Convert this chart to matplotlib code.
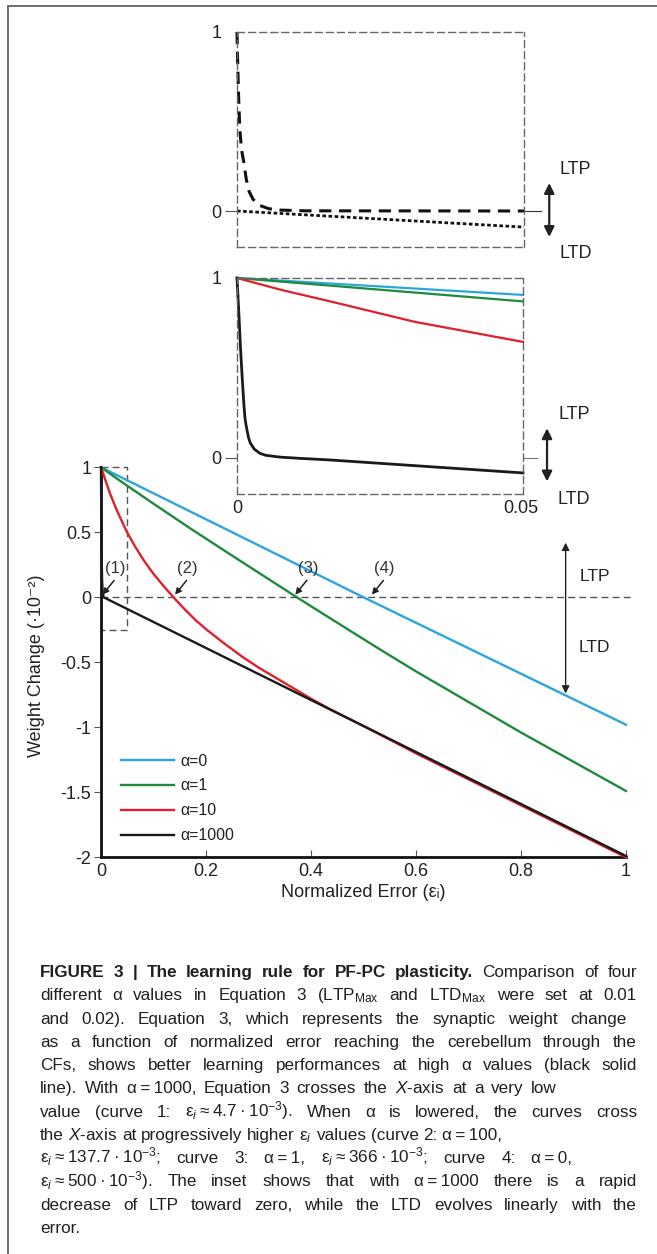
import matplotlib
matplotlib.use("Agg")
import matplotlib.pyplot as plt
from matplotlib import font_manager
from matplotlib.lines import Line2D

# ---- data (weight change in units of 1e-2) ----
err_a0 = [0.0, 0.25, 0.5, 0.75, 1.0]
w_a0 = [1.0, 0.5, 0.0, -0.49, -0.98]

err_a1 = [0.0, 0.042, 0.1, 0.17, 0.25, 0.373, 0.436, 0.531, 0.6, 0.8, 1.0]
w_a1 = [1.0, 0.88, 0.72, 0.53, 0.32, 0.0, -0.16, -0.40, -0.57, -1.04, -1.49]

err_a10 = [0.0, 0.004, 0.008, 0.017, 0.03, 0.049, 0.065, 0.081, 0.1, 0.12,
           0.138, 0.16, 0.18, 0.2, 0.233, 0.27, 0.3, 0.35, 0.4, 0.436, 0.5,
           0.6, 0.75, 0.9, 1.0]
w_a10 = [1.0, 0.955, 0.905, 0.80, 0.67, 0.505, 0.39, 0.287, 0.18, 0.083,
         0.0, -0.095, -0.175, -0.245, -0.35, -0.46, -0.54, -0.66, -0.78,
         -0.86, -0.99, -1.2, -1.5, -1.8, -2.0]

err_a1000 = [0.0, 0.0005, 0.001, 0.002, 0.003, 0.005, 0.25, 0.5, 0.75, 1.0]
w_a1000 = [1.0, 0.6, 0.37, 0.14, 0.05, 0.0, -0.49, -0.99, -1.49, -1.99]

legend_labels = ["α=0", "α=1", "α=10", "α=1000"]
curve_colors = ["#2ba6dc", "#1d8a3c", "#e0202b", "#1a1a1a"]

# top inset: LTP and LTD components for alpha = 1000
ltp_err = [0.0, 0.0001, 0.0003, 0.0005, 0.0008, 0.0012, 0.0016, 0.0021,
           0.0028, 0.0038, 0.0055, 0.0076, 0.012, 0.05]
ltp_w = [1.0, 0.85, 0.62, 0.45, 0.34, 0.27, 0.18, 0.11, 0.065, 0.033,
         0.013, 0.005, 0.001, 0.0]
ltd_err = [0.0, 0.025, 0.05]
ltd_w = [0.0, -0.045, -0.09]

# middle inset: zoom of the four curves on [0, 0.05]
zin_err_a0 = [0.0, 0.05]
zin_w_a0 = [1.0, 0.906]
zin_err_a1 = [0.0, 0.05]
zin_w_a1 = [1.0, 0.87]
zin_err_a10 = [0.0, 0.0076, 0.0163, 0.031, 0.05]
zin_w_a10 = [1.0, 0.935, 0.87, 0.757, 0.645]
zin_err_a1000 = [0.0, 0.0001, 0.0003, 0.0006, 0.0009, 0.0012, 0.0014, 0.0016,
                 0.002, 0.0023, 0.003, 0.004, 0.005, 0.0075, 0.011, 0.0163,
                 0.05]
zin_w_a1000 = [1.0, 0.94, 0.82, 0.62, 0.45, 0.30, 0.22, 0.18, 0.115, 0.085,
               0.05, 0.026, 0.015, 0.005, -0.002, -0.011, -0.083]

# zero crossings marked (1)..(4)
cross_labels = ["(1)", "(2)", "(3)", "(4)"]
cross_err = [0.003, 0.141, 0.37, 0.516]

xticks = [0, 0.2, 0.4, 0.6, 0.8, 1]
xticklabels = ["0", "0.2", "0.4", "0.6", "0.8", "1"]
yticks = [1, 0.5, 0, -0.5, -1, -1.5, -2]
yticklabels = ["1", "0.5", "0", "-0.5", "-1", "-1.5", "-2"]

caption_lines = [
    "FIGURE 3 | The learning rule for PF-PC plasticity. Comparison of four",
    "different α values in Equation 3 (LTP$_{\\mathrm{Max}}$ and LTD$_{\\mathrm{Max}}$ were set at 0.01",
    "and 0.02). Equation 3, which represents the synaptic weight change",
    "as a function of normalized error reaching the cerebellum through the",
    "CFs, shows better learning performances at high α values (black solid",
    "line). With α\u2009=\u20091000, Equation 3 crosses the $X$-axis at a very low",
    "value (curve 1: ε$_i$\u2009≈\u20094.7\u2009·\u200910$^{-3}$). When α is lowered, the curves cross",
    "the $X$-axis at progressively higher ε$_i$ values (curve 2: α\u2009=\u2009100,",
    "ε$_i$\u2009≈\u2009137.7\u2009·\u200910$^{-3}$; curve 3: α\u2009=\u20091, ε$_i$\u2009≈\u2009366\u2009·\u200910$^{-3}$; curve 4: α\u2009=\u20090,",
    "ε$_i$\u2009≈\u2009500\u2009·\u200910$^{-3}$). The inset shows that with α\u2009=\u20091000 there is a rapid",
    "decrease of LTP toward zero, while the LTD evolves linearly with the",
    "error.",
]
caption_right = [637, 637, 627, 637, 637, 557, 637, 487, 572, 637, 637, None]
n_bold = 9

W, H = 657, 1254
names = {f.name for f in font_manager.fontManager.ttflist}
cap_font = "Liberation Sans Narrow" if "Liberation Sans Narrow" in names else "Liberation Sans"

plt.rcParams["font.family"] = ["Liberation Sans", "DejaVu Sans"]
plt.rcParams["axes.unicode_minus"] = False
plt.rcParams["mathtext.fontset"] = "custom"
plt.rcParams["mathtext.rm"] = cap_font
plt.rcParams["mathtext.it"] = cap_font + ":italic"
plt.rcParams["mathtext.bf"] = cap_font + ":bold"

DASH = (0, (5, 3))
GRAY = "#555555"
TXT = "#222222"


def px_box(left, top, right, bottom):
    return [left / W, 1 - bottom / H, (right - left) / W, (bottom - top) / H]


def double_arrow(a, x, y0, y1, lw, ms):
    a.annotate("", xy=(x, y0), xytext=(x, y1), annotation_clip=False,
               arrowprops=dict(arrowstyle="<|-|>", color=TXT, lw=lw,
                               mutation_scale=ms, shrinkA=0, shrinkB=0))


fig = plt.figure(figsize=(W / 100, H / 100), dpi=100)

# ---------------- main axes ----------------
ax = fig.add_axes(px_box(101, 467.3, 626, 857.3))
ax.set_xlim(0, 1)
ax.set_ylim(-2, 1)
for s in ["top", "right"]:
    ax.spines[s].set_visible(False)
for s in ["left", "bottom"]:
    ax.spines[s].set_linewidth(2.0)
    ax.spines[s].set_color("#111111")

series = [(err_a0, w_a0), (err_a1, w_a1), (err_a10, w_a10), (err_a1000, w_a1000)]
for (xs, ys), c, lab in zip(series, curve_colors, legend_labels):
    ax.plot(xs, ys, color=c, lw=1.7, label=lab, clip_on=False, zorder=3)

ax.plot([0, 1.01], [0, 0], color=GRAY, lw=1, ls=DASH, clip_on=False, zorder=2)
ax.plot([0, 0.0495, 0.0495, 0], [1.0, 1.0, -0.25, -0.25], color=GRAY,
        lw=1, ls=DASH, clip_on=False, zorder=2)

ax.set_xticks(xticks)
ax.set_xticklabels(xticklabels)
ax.set_yticks(yticks)
ax.set_yticklabels(yticklabels)
ax.tick_params(axis="y", direction="out", length=5, width=0.8, color=GRAY,
               pad=2, labelsize=13, labelcolor=TXT)
ax.tick_params(axis="x", direction="in", length=5, width=0.8, color=GRAY,
               pad=4, labelsize=13, labelcolor=TXT)

ax.set_xlabel("Normalized Error (εᵢ)", fontsize=13, color=TXT, labelpad=3)
ax.set_ylabel("Weight Change (·10⁻²)", fontsize=13, color=TXT)
ax.yaxis.set_label_coords(-0.107, 0.49)

for lab, xe in zip(cross_labels, cross_err):
    ax.annotate("", xy=(xe, 0.02), xytext=(xe + 0.022, 0.13),
                arrowprops=dict(arrowstyle="-|>", color=TXT, lw=1.1,
                                mutation_scale=9, shrinkA=0, shrinkB=0))
    ax.text(xe + 0.024, 0.22, lab, ha="center", va="center", fontsize=12,
            color="#333333")

double_arrow(ax, 0.885, 0.42, -0.74, 1, 11)
ax.text(0.94, 0.16, "LTP", ha="center", va="center", fontsize=12.5, color=TXT)
ax.text(0.94, -0.39, "LTD", ha="center", va="center", fontsize=12.5, color=TXT)

leg = ax.legend(loc="center left", bbox_to_anchor=(0.039, 0.151), frameon=False,
                borderpad=0, borderaxespad=0, handlelength=3.3,
                handletextpad=0.37, labelspacing=0.62, fontsize=11.5)
for t in leg.get_texts():
    t.set_color(TXT)


def style_inset(a):
    a.set_xlim(0, 0.05)
    a.set_ylim(-0.2, 1)
    for s in a.spines.values():
        s.set_linestyle(DASH)
        s.set_color("#666666")
        s.set_linewidth(1)
    a.set_yticks([0, 1])
    a.set_yticklabels(["0", "1"])
    a.tick_params(axis="y", length=9, width=0.8, color=GRAY, pad=2,
                  labelsize=13, labelcolor=TXT)
    a.yaxis.get_major_ticks()[1].tick1line.set_visible(False)


# ---------------- top inset ----------------
ax1 = fig.add_axes(px_box(237, 32, 524, 246.8))
style_inset(ax1)
ax1.set_xticks([])
ax1.plot(ltp_err, ltp_w, color="#111111", lw=2.2, ls=(0, (4, 2.5)), clip_on=False)
ax1.plot(ltd_err, ltd_w, color="#111111", lw=2, ls=(0, (1.3, 0.9)), clip_on=False)
ax1.plot([0.05, 0.053], [0, 0], color="#333333", lw=0.8, clip_on=False)
double_arrow(ax1, 0.0544, 0.156, -0.145, 1.6, 15)
ax1.text(0.059, 0.23, "LTP", ha="center", va="center", fontsize=13, color=TXT)
ax1.text(0.059, -0.235, "LTD", ha="center", va="center", fontsize=13, color=TXT)

# ---------------- middle inset ----------------
ax2 = fig.add_axes(px_box(237, 278, 523, 494))
style_inset(ax2)
ax2.set_xticks([0, 0.0497])
ax2.set_xticklabels(["0", "0.05"])
ax2.tick_params(axis="x", length=0, pad=4, labelsize=13, labelcolor=TXT)
zin = [(zin_err_a0, zin_w_a0), (zin_err_a1, zin_w_a1),
       (zin_err_a10, zin_w_a10), (zin_err_a1000, zin_w_a1000)]
for (xs, ys), c in zip(zin, curve_colors):
    ax2.plot(xs, ys, color=c, lw=2 if c == "#1a1a1a" else 1.6, clip_on=False)
ax2.plot([0.05, 0.0525], [0, 0], color="#777777", lw=0.8, clip_on=False)
double_arrow(ax2, 0.0542, 0.165, -0.13, 1.6, 15)
ax2.text(0.0589, 0.24, "LTP", ha="center", va="center", fontsize=13, color=TXT)
ax2.text(0.0589, -0.233, "LTD", ha="center", va="center", fontsize=13, color=TXT)

# ---------------- frame ----------------
fig.add_artist(Line2D([8 / W, 8 / W], [0, 1 - 6 / H], transform=fig.transFigure,
                      color="#6e6e6e", lw=1.4))
fig.add_artist(Line2D([8 / W, 1], [1 - 6 / H, 1 - 6 / H], transform=fig.transFigure,
                      color="#6e6e6e", lw=1.4))

# ---------------- caption (justified) ----------------
renderer = fig.canvas.get_renderer()
x0 = 40
for k, (line, xr) in enumerate(zip(caption_lines, caption_right)):
    y = 1 - (977 + 23.27 * k) / H
    tokens = line.split(" ")
    texts = []
    for i, tok in enumerate(tokens):
        bold = (k == 0 and i < n_bold)
        t = fig.text(0, y, tok, fontsize=12.3, va="baseline", ha="left",
                     family=[cap_font, "DejaVu Sans"],
                     weight="bold" if bold else "normal", color="#231f20")
        texts.append(t)
    widths = [t.get_window_extent(renderer).width for t in texts]
    if xr is None or len(texts) == 1:
        gap = 5
    else:
        gap = max((xr - x0 - sum(widths)) / (len(texts) - 1), 4.5)
    x = x0
    for t, wd in zip(texts, widths):
        t.set_x(x / W)
        x += wd + gap

fig.savefig("out.png", dpi=100)
